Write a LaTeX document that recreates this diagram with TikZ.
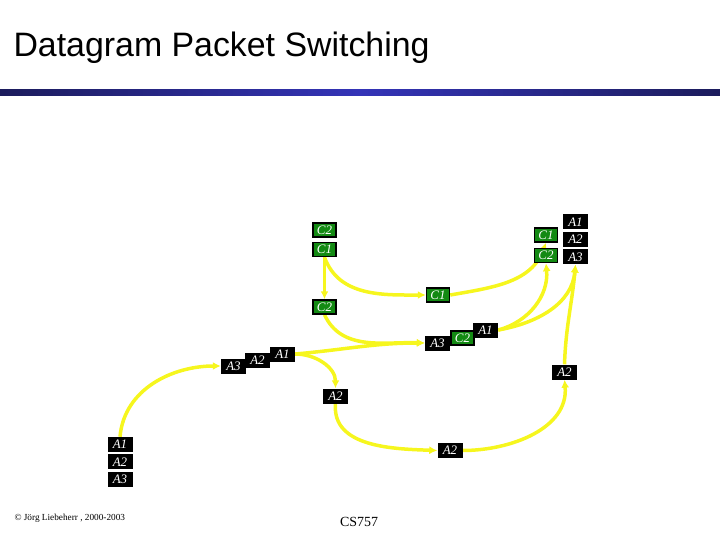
\documentclass[tikz,border=0pt]{standalone}
\usepackage{fontspec}
\setmainfont{Liberation Serif}
\setsansfont{Liberation Sans}
\usepackage{tikz}
\usetikzlibrary{arrows.meta,positioning,backgrounds}
\definecolor{pktgreen}{HTML}{138A13}
\definecolor{barnavy}{HTML}{1C1C5C}
\definecolor{barblue}{HTML}{3434B8}
\definecolor{wireyellow}{HTML}{F6F61E}

\begin{document}
\begin{tikzpicture}[
  x=1bp, y=-1bp,
  pktA/.style={fill=black, text=white, minimum width=25bp, minimum height=15bp, inner sep=0pt, font=\fontsize{13}{13}\selectfont\itshape},
  pktC/.style={pktA, fill=pktgreen, draw=black, line width=1.5bp, minimum width=23bp, minimum height=14bp},
  wire/.style={-{Latex[length=8bp,width=8bp]}, draw=wireyellow, line width=3.5bp},
  node distance=2bp
]
  \useasboundingbox (0,0) rectangle (720,540);

  % title and bar
  \node[anchor=west, font=\sffamily\fontsize{34}{34}\selectfont] (title) at (10,48) {Datagram Packet Switching};
  \shade[left color=barnavy, right color=barnavy, middle color=barblue] (0,90) rectangle (720,96);

  % source host
  \node[pktA] (la1) at (120,444.5) {A1};
  \node[pktA, below=of la1] (la2) {A2};
  \node[pktA, below=of la2] (la3) {A3};

  % first router
  \node[pktA] (ga3) at (233.5,366) {A3};
  \node[pktA] (ga2) at (257.5,360) {A2};
  \node[pktA] (ga1) at (282.5,354) {A1};

  % lower path
  \node[pktA] (lwa2) at (335.5,396) {A2};
  \node[pktA] (lra2) at (450,450.5) {A2};
  \node[pktA] (ra2) at (564.5,372) {A2};

  % upper left host
  \node[pktC] (c2t) at (324.5,230) {C2};
  \node[pktC, below=4bp of c2t] (c1t) {C1};
  \node[pktC] (c2l) at (324.5,307) {C2};

  % middle router
  \node[pktC] (mc1) at (438,295) {C1};
  \node[pktA] (ma3) at (437.5,343) {A3};
  \node[pktC] (mc2) at (462.5,338) {C2};
  \node[pktA] (ma1) at (485.5,330) {A1};

  % destination hosts
  \node[pktC] (rc1) at (546,235) {C1};
  \node[pktC, below=5bp of rc1] (rc2) {C2};
  \node[pktA] (ra1) at (575.5,222) {A1};
  \node[pktA, below=of ra1] (ra2s) {A2};
  \node[pktA, below=of ra2s] (ra3) {A3};

  % footer
  \node[anchor=west, font=\fontsize{9.3}{9.3}\selectfont] (copy) at (11,518) {\textcopyright{} Jörg Liebeherr , 2000-2003};
  \node[font=\fontsize{14}{14}\selectfont] (course) at (359,522) {CS757};

  \begin{scope}[on background layer]
    \draw[wire] (la1.north) to[out=85, in=180] (ga3.west);
    \draw[wire] (ga1.east) to[out=5, in=180] (ma3.west);
    \draw[wire] (ga1.east) to[out=0, in=90] (lwa2.north);
    \draw[wire] (c2l.south) to[out=-65, in=178] (ma3.west);
    \draw[wire] (c1t.south) -- (c2l.north);
    \draw[wire] (c1t.south) to[out=-70, in=180] (mc1.west);
    \draw[wire] (mc1.east) to[out=10, in=-110] (rc1.south);
    \draw[wire] (ma1.east) to[out=15, in=-85] (rc2.south);
    \draw[wire] (ma1.east) to[out=10, in=-95] (ra3.south);
    \draw[wire] (lwa2.south) to[out=-95, in=178] (lra2.west);
    \draw[wire] (lra2.east) to[out=0, in=-85] (ra2.south);
    \draw[wire] (ra2.north) to[out=88, in=-95] (ra3.south);
  \end{scope}
\end{tikzpicture}
\end{document}
